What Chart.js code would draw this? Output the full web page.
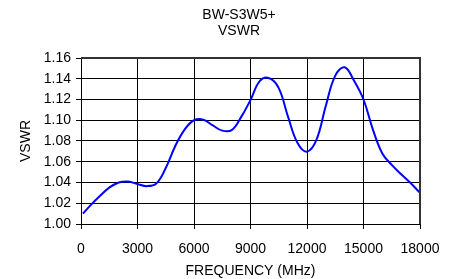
<!DOCTYPE html>
<html>
<head>
<meta charset="utf-8">
<script src="https://cdn.jsdelivr.net/npm/chart.js@4.4.1/dist/chart.umd.min.js"></script>
<style>
html,body{margin:0;padding:0;background:#fff;}
#wrap{width:455px;height:279px;position:relative;}
</style>
</head>
<body>
<div id="wrap"><canvas id="c" width="455" height="279"></canvas></div>
<script>
const titleLines = ['BW-S3W5+', 'VSWR'];
const xAxisTitle = 'FREQUENCY (MHz)';
const yAxisTitle = 'VSWR';
const frequencies = [100, 500, 1000, 1500, 2000, 2500, 3000, 3500, 4000, 4500, 5000, 5500, 6000, 6500, 7000, 7500, 8000, 8500, 9000, 9500, 10000, 10500, 11000, 11500, 12000, 12500, 13000, 13500, 14000, 14500, 15000, 15500, 16000, 16500, 17000, 17500, 18000];
const vswr = [1.010, 1.018, 1.027, 1.035, 1.040, 1.041, 1.0386, 1.0365, 1.039, 1.054, 1.075, 1.091, 1.100, 1.1005, 1.095, 1.090, 1.0905, 1.103, 1.1195, 1.138, 1.1405, 1.131, 1.103, 1.078, 1.0697, 1.081, 1.114, 1.143, 1.151, 1.138, 1.120, 1.091, 1.068, 1.057, 1.048, 1.0395, 1.030];
const xTicks = [0, 3000, 6000, 9000, 12000, 15000, 18000];
const yTicks = [1.00, 1.02, 1.04, 1.06, 1.08, 1.10, 1.12, 1.14, 1.16];

const FONT = "'Liberation Sans', Arial, sans-serif";

const textPlugin = {
  id: 'texts',
  afterDraw(chart) {
    const ctx = chart.ctx;
    const a = chart.chartArea;
    ctx.save();
    ctx.fillStyle = '#000';
    ctx.font = '14px ' + FONT;
    ctx.textAlign = 'center';
    ctx.textBaseline = 'middle';
    ctx.fillText(titleLines[0], 239, 15);
    ctx.fillText(titleLines[1], 239, 31);
    ctx.fillText(xAxisTitle, (a.left + a.right) / 2, 271);
    ctx.translate(26, (a.top + a.bottom) / 2);
    ctx.rotate(-Math.PI / 2);
    ctx.fillText(yAxisTitle, 0, 0);
    ctx.restore();
    ctx.save();
    ctx.strokeStyle = '#333';
    ctx.lineWidth = 2;
    ctx.beginPath();
    ctx.moveTo(a.left, a.top);
    ctx.lineTo(a.right, a.top);
    ctx.lineTo(a.right, a.bottom);
    ctx.stroke();
    ctx.restore();
  }
};

new Chart(document.getElementById('c'), {
  type: 'line',
  data: {
    datasets: [{
      data: frequencies.map((f, i) => ({ x: f, y: vswr[i] })),
      borderColor: '#0000ff',
      borderWidth: 2,
      pointRadius: 0,
      fill: false,
      tension: 0.4
    }]
  },
  options: {
    responsive: false,
    animation: false,
    devicePixelRatio: 1,
    layout: { padding: { left: 0, right: 35, top: 58, bottom: 0 } },
    plugins: { legend: { display: false }, title: { display: false }, tooltip: { enabled: false } },
    scales: {
      x: {
        type: 'linear',
        min: 0, max: 18000,
        afterBuildTicks: s => { s.ticks = xTicks.map(v => ({ value: v })); },
        afterFit: s => { s.height = 55; },
        grid: { color: '#000', lineWidth: 1, tickLength: 5, drawTicks: true },
        border: { color: '#000', width: 1 },
        ticks: { color: '#000', font: { family: FONT, size: 14 }, padding: 12, maxRotation: 0, autoSkip: false, callback: v => String(v) }
      },
      y: {
        type: 'linear',
        min: 1.0, max: 1.16,
        afterBuildTicks: s => { s.ticks = yTicks.map(v => ({ value: v })); },
        afterFit: s => { s.width = 81; },
        grid: { color: '#000', lineWidth: 1, tickLength: 5, drawTicks: true },
        border: { color: '#000', width: 1 },
        ticks: { color: '#000', font: { family: FONT, size: 14 }, padding: 5, autoSkip: false, callback: v => Number(v).toFixed(2) }
      }
    }
  },
  plugins: [textPlugin]
});
</script>
</body>
</html>
